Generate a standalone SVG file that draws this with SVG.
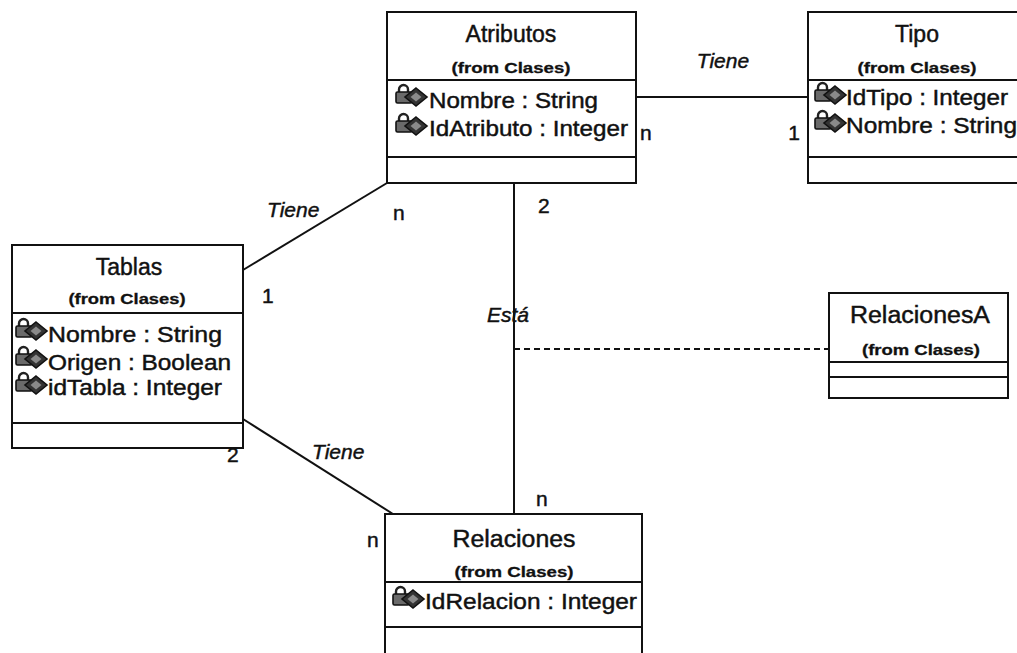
<svg xmlns="http://www.w3.org/2000/svg" width="1017" height="653" viewBox="0 0 1017 653">
  <style>
    .box { fill: #ffffff; stroke: #111111; stroke-width: 2; }
    .div { stroke: #111111; stroke-width: 2; }
    text { fill: #111111; stroke: #111111; stroke-width: 0.45; font-family: "Liberation Sans", Arial, sans-serif; }
    .name { font-size: 23px; text-anchor: middle; }
    .from { font-size: 15px; font-weight: bold; text-anchor: middle; stroke-width: 0.3; }
    .attr { font-size: 22px; }
    .role { font-size: 21px; font-style: italic; }
    .mult { font-size: 21px; }
    .link { fill: none; stroke: #111111; stroke-width: 2; }
    .dash { fill: none; stroke: #111111; stroke-width: 2; stroke-dasharray: 6 4; }
  </style>
  <defs>
    <!-- private attribute marker: padlock over a diamond -->
    <g id="attrIcon">
      <path d="M4 9 V5.5 A4.5 4.5 0 0 1 13 5.5 V9" fill="none" stroke="#222" stroke-width="2.4"/>
      <rect x="1" y="8" width="16" height="11" rx="1.5" fill="#6a6a6a" stroke="#111" stroke-width="1.6"/>
      <polygon points="21,4 32,13 21,22 10,13" fill="#333" stroke="#111" stroke-width="1.6"/>
      <polygon points="21,8.5 26.5,13 21,17.5 15.5,13" fill="#8a8a8a"/>
    </g>
  </defs>

  <rect width="1017" height="653" fill="#ffffff"/>

  <!-- associations -->
  <g id="connectors">
    <line class="link" x1="636" y1="97" x2="808" y2="97"/>
    <line class="link" x1="243" y1="270" x2="387" y2="183"/>
    <line class="link" x1="514" y1="183" x2="514" y2="514"/>
    <line class="dash" x1="514" y1="349" x2="829" y2="349"/>
    <line class="link" x1="243" y1="419" x2="393" y2="514"/>

    <text class="role" x="723" y="68" text-anchor="middle">Tiene</text>
    <text class="mult" x="640" y="140">n</text>
    <text class="mult" x="800" y="140" text-anchor="end">1</text>

    <text class="role" x="267" y="217">Tiene</text>
    <text class="mult" x="393" y="220">n</text>
    <text class="mult" x="538" y="213">2</text>
    <text class="mult" x="262" y="303">1</text>

    <text class="role" x="487" y="322">Está</text>

    <text class="role" x="312" y="459">Tiene</text>
    <text class="mult" x="227" y="462">2</text>
    <text class="mult" x="367" y="547">n</text>
    <text class="mult" x="536" y="506">n</text>
  </g>

  <!-- class Atributos -->
  <g id="atributos">
    <rect class="box" x="387" y="12" width="249" height="171"/>
    <line class="div" x1="387" y1="80" x2="636" y2="80"/>
    <line class="div" x1="387" y1="157" x2="636" y2="157"/>
    <text class="name" x="511" y="42">Atributos</text>
    <text class="from" x="511" y="73" textLength="119" lengthAdjust="spacingAndGlyphs">(from Clases)</text>
    <use href="#attrIcon" x="395" y="84"/>
    <text class="attr" x="429" y="108" textLength="169" lengthAdjust="spacingAndGlyphs">Nombre : String</text>
    <use href="#attrIcon" x="395" y="113"/>
    <text class="attr" x="429" y="136" textLength="199" lengthAdjust="spacingAndGlyphs">IdAtributo : Integer</text>
  </g>

  <!-- class Tipo -->
  <g id="tipo">
    <rect class="box" x="808" y="12" width="220" height="171"/>
    <line class="div" x1="808" y1="80" x2="1028" y2="80"/>
    <line class="div" x1="808" y1="157" x2="1028" y2="157"/>
    <text class="name" x="917" y="42">Tipo</text>
    <text class="from" x="917" y="73" textLength="119" lengthAdjust="spacingAndGlyphs">(from Clases)</text>
    <use href="#attrIcon" x="814" y="82"/>
    <text class="attr" x="846" y="105" textLength="162" lengthAdjust="spacingAndGlyphs">IdTipo : Integer</text>
    <use href="#attrIcon" x="814" y="110"/>
    <text class="attr" x="846" y="133" textLength="171" lengthAdjust="spacingAndGlyphs">Nombre : String</text>
  </g>

  <!-- class Tablas -->
  <g id="tablas">
    <rect class="box" x="12" y="245" width="231" height="203"/>
    <line class="div" x1="12" y1="313" x2="243" y2="313"/>
    <line class="div" x1="12" y1="423" x2="243" y2="423"/>
    <text class="name" x="129" y="275">Tablas</text>
    <text class="from" x="127" y="304" textLength="117" lengthAdjust="spacingAndGlyphs">(from Clases)</text>
    <use href="#attrIcon" x="15" y="318"/>
    <text class="attr" x="48" y="342" textLength="174" lengthAdjust="spacingAndGlyphs">Nombre : String</text>
    <use href="#attrIcon" x="15" y="346"/>
    <text class="attr" x="48" y="370" textLength="183" lengthAdjust="spacingAndGlyphs">Origen : Boolean</text>
    <use href="#attrIcon" x="15" y="372"/>
    <text class="attr" x="48" y="395" textLength="174" lengthAdjust="spacingAndGlyphs">idTabla : Integer</text>
  </g>

  <!-- class RelacionesA -->
  <g id="relacionesA">
    <rect class="box" x="829" y="293" width="179" height="105"/>
    <line class="div" x1="829" y1="362" x2="1008" y2="362"/>
    <line class="div" x1="829" y1="377" x2="1008" y2="377"/>
    <text class="name" x="920" y="323" textLength="140" lengthAdjust="spacingAndGlyphs">RelacionesA</text>
    <text class="from" x="921" y="355" textLength="118" lengthAdjust="spacingAndGlyphs">(from Clases)</text>
  </g>

  <!-- class Relaciones -->
  <g id="relaciones">
    <rect class="box" x="385" y="514" width="257" height="150"/>
    <line class="div" x1="385" y1="582" x2="642" y2="582"/>
    <line class="div" x1="385" y1="627" x2="642" y2="627"/>
    <text class="name" x="514" y="547" textLength="123" lengthAdjust="spacingAndGlyphs">Relaciones</text>
    <text class="from" x="514" y="577" textLength="119" lengthAdjust="spacingAndGlyphs">(from Clases)</text>
    <use href="#attrIcon" x="392" y="586"/>
    <text class="attr" x="425" y="609" textLength="212" lengthAdjust="spacingAndGlyphs">IdRelacion : Integer</text>
  </g>
</svg>
